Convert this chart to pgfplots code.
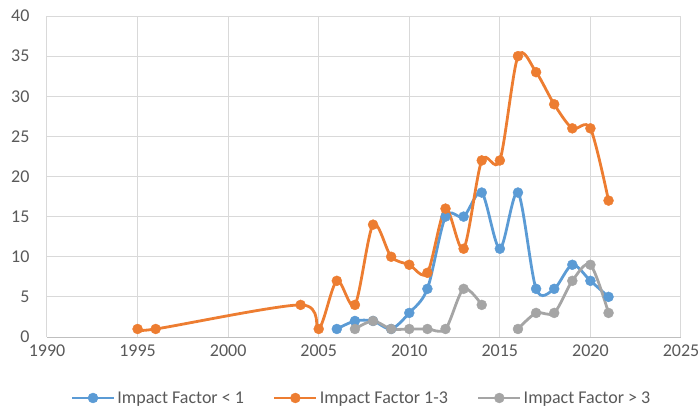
\documentclass[border=0pt]{standalone}
\usepackage{pgfplots}
\pgfplotsset{compat=1.18}
\usepackage{fontspec}
\setmainfont{Carlito}
\definecolor{cblue}{RGB}{91,155,213}
\definecolor{corange}{RGB}{237,125,49}
\definecolor{cgray}{RGB}{165,165,165}
\definecolor{gridc}{RGB}{217,217,217}
\definecolor{textc}{RGB}{89,89,89}
\newcommand\cf{\fontsize{18bp}{21bp}\selectfont}
\begin{document}
\begin{tikzpicture}
\useasboundingbox (-47bp,-71bp) rectangle (652bp,337bp);
\begin{axis}[
  scale only axis,
  width=634bp, height=321bp,
  xmin=1990, xmax=2025, ymin=0, ymax=40,
  xtick={1990,1995,...,2025}, ytick={0,5,...,40},
  /pgf/number format/1000 sep={},
  /pgf/number format/assume math mode=true,
  tick label style={font=\cf, text=textc},
  yticklabel style={xshift=-14bp},
  xticklabel style={yshift=-4bp},
  major tick length=0pt,
  grid=major,
  grid style={gridc, line width=1bp},
  axis line style={draw=none},
  axis x line*=bottom,
  axis y line*=left,
  legend style={at={(0.496,-0.19)}, anchor=center, draw=none, fill=none,
    font=\cf, text=textc, legend columns=-1,
    /tikz/every even column/.append style={column sep=27bp}},
  legend image code/.code={
    \draw[#1, mark=none] (0bp,0bp) -- (42bp,0bp);
    \draw[#1, only marks] plot coordinates {(21bp,0bp)};
  },
  every axis plot/.append style={line width=2.8bp, mark=*, mark size=5bp},
  clip=false,
]
\draw[color={rgb,255:red,191;green,191;blue,191}, line width=1bp] (axis cs:1990,0) -- (axis cs:2025,0);
\addplot[cblue, smooth, tension=0.5, mark options={solid, fill=cblue, draw=cblue, line width=0.4bp}] coordinates {
(2006,1) (2007,2) (2008,2) (2009,1) (2010,3) (2011,6) (2012,15) (2013,15)
(2014,18) (2015,11) (2016,18) (2017,6) (2018,6) (2019,9) (2020,7) (2021,5)};
\addlegendentry{Impact Factor < 1}
\addplot[corange, smooth, tension=0.5, mark options={solid, fill=corange, draw=corange, line width=0.4bp}] coordinates {
(1995,1) (1996,1) (2004,4) (2005,1) (2006,7) (2007,4) (2008,14) (2009,10)
(2010,9) (2011,8) (2012,16) (2013,11) (2014,22) (2015,22) (2016,35) (2017,33)
(2018,29) (2019,26) (2020,26) (2021,17)};
\addlegendentry{Impact Factor 1-3}
\addplot[cgray, smooth, tension=0.5, mark options={solid, fill=cgray, draw=cgray, line width=0.4bp}] coordinates {
(2007,1) (2008,2) (2009,1) (2010,1) (2011,1) (2012,1) (2013,6) (2014,4)};
\addlegendentry{Impact Factor > 3}
\addplot[cgray, smooth, tension=0.5, forget plot, mark options={solid, fill=cgray, draw=cgray, line width=0.4bp}] coordinates {
(2016,1) (2017,3) (2018,3) (2019,7) (2020,9) (2021,3)};
\end{axis}
\end{tikzpicture}
\end{document}
